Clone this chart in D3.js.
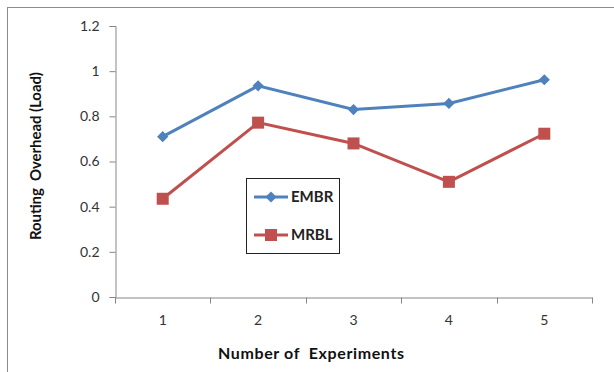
<!DOCTYPE html>
<html><head><meta charset="utf-8">
<script src="https://cdn.jsdelivr.net/npm/d3@7"></script>
<style>body{margin:0;background:#fff}svg{display:block}text{font-family:Lato,"Open Sans",sans-serif}</style>
</head><body>
<svg id="c" width="614" height="372"></svg>
<script>
const categories = ["1","2","3","4","5"];
const embr = [0.71, 0.935, 0.83, 0.857, 0.962];
const mrbl = [0.435, 0.772, 0.68, 0.51, 0.723];
const yTicks = [0, 0.2, 0.4, 0.6, 0.8, 1, 1.2];
const seriesNames = ["EMBR", "MRBL"];

const svg = d3.select("#c");
svg.append("rect").attr("x",7.5).attr("y",7.5).attr("width",620).attr("height",380)
  .attr("fill","none").attr("stroke","#8c8c8c").attr("stroke-width",1);

const x = d3.scaleBand().domain(categories).range([115, 592]);
const y = d3.scaleLinear().domain([0, 1.2]).range([297, 26]);
const grey = "#868686";

const yAxis = svg.append("g").attr("transform","translate(115.5,0)")
  .call(d3.axisLeft(y).tickValues(yTicks).tickSize(6).tickPadding(10).tickFormat(d=>String(d)));
const xAxis = svg.append("g").attr("transform","translate(0,297.5)")
  .call(d3.axisBottom(x).tickSize(0).tickPadding(18));
const bounds = categories.map(c=>x(c)).concat([x.range()[1]]);
xAxis.selectAll(".bt").data(bounds).enter().append("line")
  .attr("x1",d=>Math.round(d)+0.5).attr("x2",d=>Math.round(d)+0.5).attr("y1",0).attr("y2",6)
  .attr("stroke",grey);
[yAxis,xAxis].forEach(a=>{
  a.select(".domain").attr("stroke",grey);
  a.selectAll(".tick line").attr("stroke",grey);
  a.selectAll("text").attr("fill","#333").style("font-size","14px");
});

const cx = d => x(d) + x.bandwidth()/2;
const colors = ["#4F81BD", "#C0504D"];
const data = [embr, mrbl];
const line = d3.line().x((d,i)=>cx(categories[i])).y(d=>y(d));
data.forEach((s,k)=>{
  svg.append("path").datum(s).attr("d",line).attr("fill","none")
    .attr("stroke",colors[k]).attr("stroke-width",3);
});
const diamond = d3.symbol().type(d3.symbolDiamond2).size(80);
svg.selectAll(".dm").data(embr).enter().append("path")
  .attr("d", diamond).attr("fill",colors[0])
  .attr("transform",(d,i)=>`translate(${cx(categories[i])},${y(d)})`);
svg.selectAll(".sq").data(mrbl).enter().append("rect")
  .attr("x",(d,i)=>cx(categories[i])-6).attr("y",d=>y(d)-6)
  .attr("width",12).attr("height",12).attr("fill",colors[1]);

svg.append("rect").attr("x",246.5).attr("y",178.5).attr("width",93).attr("height",75)
  .attr("fill","#fff").attr("stroke","#222").attr("stroke-width",1);
const ly = [197, 235];
seriesNames.forEach((n,k)=>{
  svg.append("line").attr("x1",254).attr("x2",288).attr("y1",ly[k]).attr("y2",ly[k])
    .attr("stroke",colors[k]).attr("stroke-width",3);
  if(k===0) svg.append("path").attr("d",diamond).attr("fill",colors[0]).attr("transform",`translate(271,${ly[k]})`);
  else svg.append("rect").attr("x",265).attr("y",ly[k]-6).attr("width",12).attr("height",12).attr("fill",colors[1]);
  svg.append("text").attr("x",291).attr("y",ly[k]+5).text(n)
    .style("font-size","15px").style("font-weight","bold").attr("fill","#222");
});

svg.append("text").attr("transform","translate(41,156) rotate(-90)").attr("text-anchor","middle")
  .style("font-size","15px").style("font-weight","bold").attr("fill","#111")
  .attr("textLength",168).attr("lengthAdjust","spacing")
  .attr("xml:space","preserve").text("Routing  Overhead (Load)");
svg.append("text").attr("x",311).attr("y",359).attr("text-anchor","middle")
  .style("font-size","16px").style("font-weight","bold").attr("fill","#111")
  .attr("textLength",186).attr("lengthAdjust","spacing")
  .attr("xml:space","preserve").text("Number of  Experiments");
</script>
</body></html>
